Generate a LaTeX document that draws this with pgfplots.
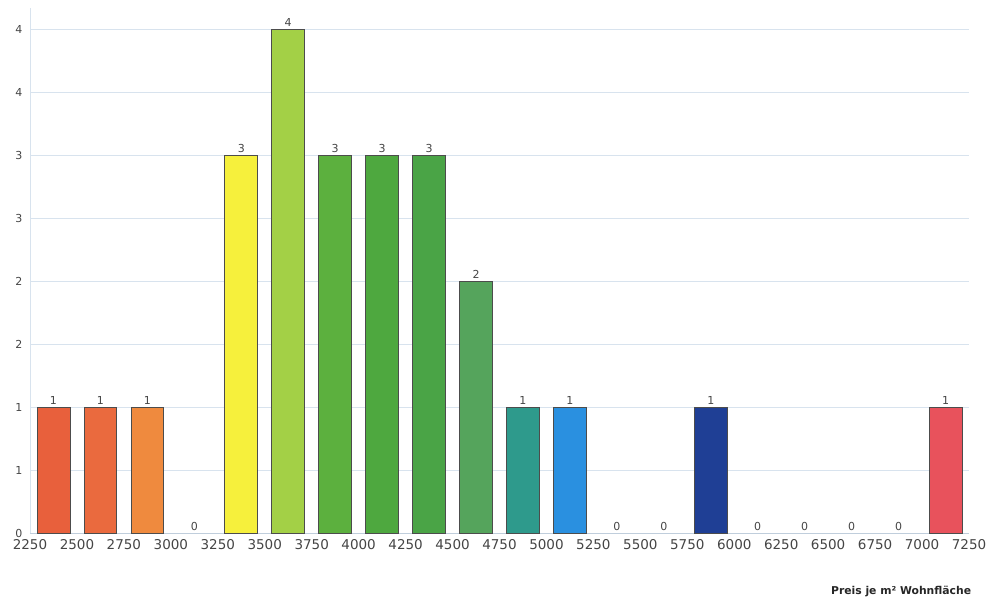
\documentclass[border=0pt]{standalone}
\usepackage{fontspec}
\setmainfont{DejaVu Sans}
\usepackage{pgfplots}
\pgfplotsset{compat=1.18}
\definecolor{c1}{HTML}{E8603C}
\definecolor{c2}{HTML}{EA6A3E}
\definecolor{c3}{HTML}{EF8A3E}
\definecolor{c5}{HTML}{F6F03C}
\definecolor{c6}{HTML}{A3D046}
\definecolor{c7}{HTML}{5CB03E}
\definecolor{c8}{HTML}{4EA83F}
\definecolor{c9}{HTML}{4AA446}
\definecolor{c10}{HTML}{55A45C}
\definecolor{c11}{HTML}{2E9A8C}
\definecolor{c12}{HTML}{2A90E0}
\definecolor{c15}{HTML}{1F3F95}
\definecolor{c20}{HTML}{E8525C}
\definecolor{gridc}{HTML}{D8E3EE}
\definecolor{axc}{HTML}{C0CEDC}
\definecolor{txt}{HTML}{454545}
\begin{document}
\begin{tikzpicture}
\begin{axis}[
  name=ax,
  scale only axis,
  width=939pt, height=525pt,
  xmin=2250, xmax=7250, ymin=0, ymax=4.17,
  axis x line*=bottom, axis y line*=left,
  x axis line style={draw=axc, line width=0.8pt, -},
  y axis line style={draw=gridc, line width=0.6pt, -},
  major tick length=0pt,
  xtick={2250,2500,...,7250},
  ytick={0,0.5,...,4},
  yticklabels={0,1,1,2,2,3,3,4,4},
  ymajorgrids,
  grid style={draw=gridc, line width=0.8pt},
  /pgf/number format/assume math mode=true,
  /pgf/number format/set thousands separator={},
  x tick label style={font=\fontsize{13.5}{15}\selectfont, text=txt, yshift=-3pt},
  y tick label style={font=\fontsize{11}{13}\selectfont, text=txt, xshift=-4pt},
  every axis plot/.append style={ybar, bar width=175, bar shift=0pt,
     draw=black!70, line width=0.8pt,
     nodes near coords,
     every node near coord/.append style={font=\fontsize{11}{13}\selectfont, text=txt, inner sep=2pt}},
  clip=false,
]
\addplot[fill=c1] coordinates {(2375,1)};
\addplot[fill=c2] coordinates {(2625,1)};
\addplot[fill=c3] coordinates {(2875,1)};
\addplot[fill=c5] coordinates {(3375,3)};
\addplot[fill=c6] coordinates {(3625,4)};
\addplot[fill=c7] coordinates {(3875,3)};
\addplot[fill=c8] coordinates {(4125,3)};
\addplot[fill=c9] coordinates {(4375,3)};
\addplot[fill=c10] coordinates {(4625,2)};
\addplot[fill=c11] coordinates {(4875,1)};
\addplot[fill=c12] coordinates {(5125,1)};
\addplot[fill=c15] coordinates {(5875,1)};
\addplot[fill=c20] coordinates {(7125,1)};
\addplot[draw=none, fill=none] coordinates {(3125,0) (5375,0) (5625,0) (6125,0) (6375,0) (6625,0) (6875,0)};
\node[anchor=east, font=\bfseries\fontsize{10.8}{12}\selectfont, text=black!85] at (rel axis cs:1.006,-0.112) {Preis je m² Wohnfläche};
\end{axis}
\pgfresetboundingbox
\path[use as bounding box] ([xshift=-30pt,yshift=-73pt]ax.south west) rectangle ([xshift=23pt,yshift=8pt]ax.north east);
\end{tikzpicture}
\end{document}
